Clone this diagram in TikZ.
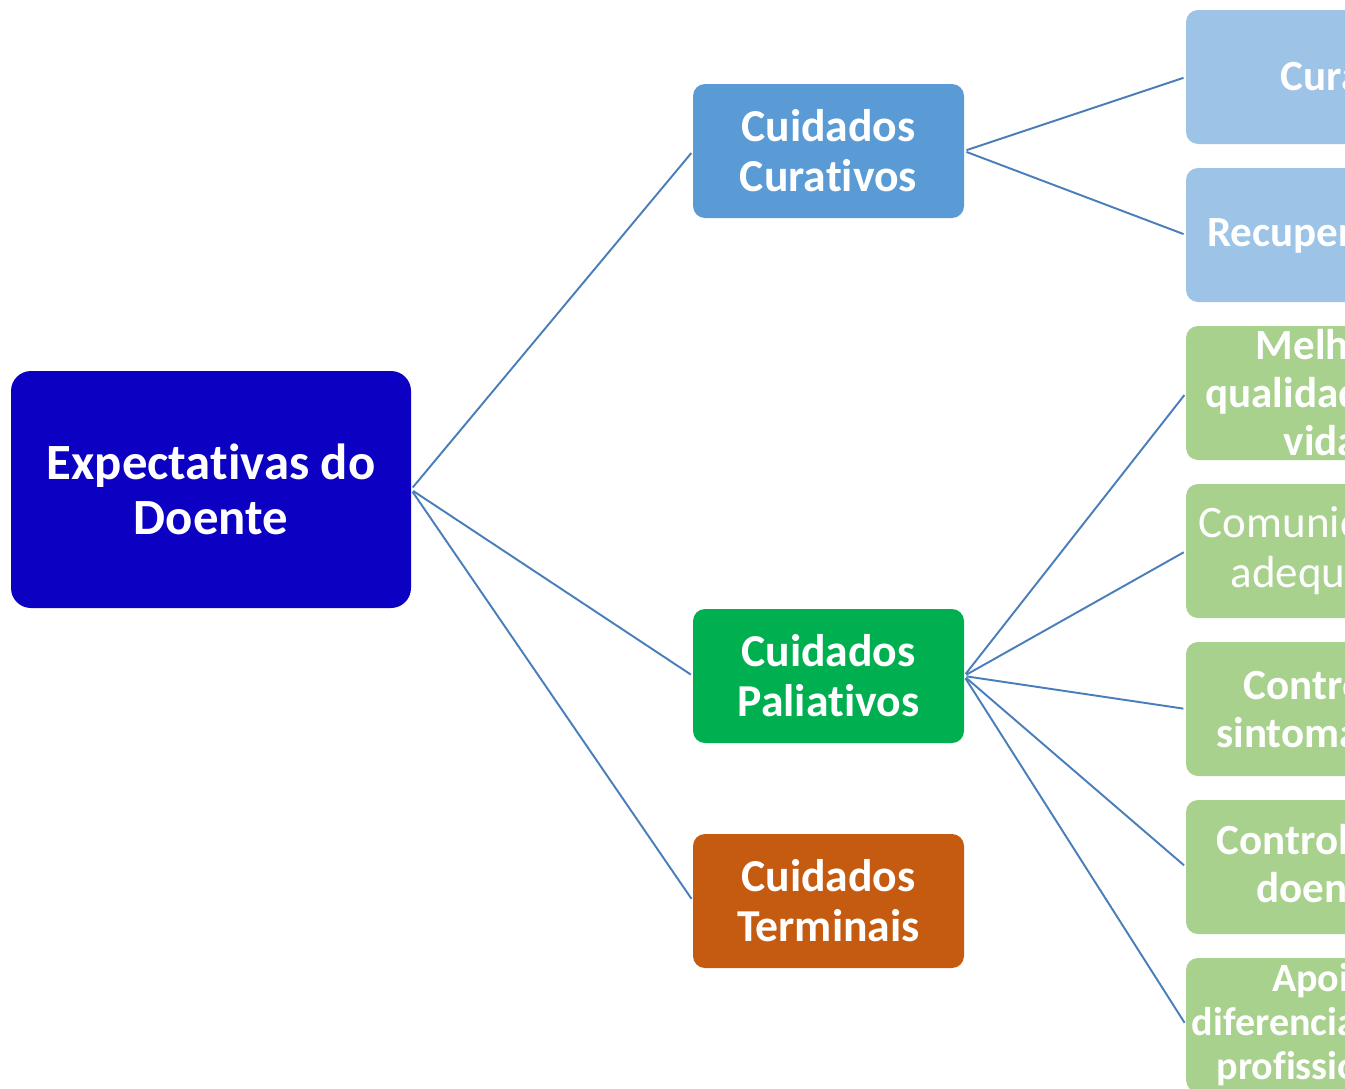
\documentclass[tikz,border=0pt]{standalone}
\usepackage{fontspec}
\setmainfont{Carlito}[Ligatures=NoCommon]
\usetikzlibrary{positioning}

\definecolor{rootblue}{RGB}{12,0,194}
\definecolor{curblue}{RGB}{91,155,213}
\definecolor{palgreen}{RGB}{0,176,80}
\definecolor{termorange}{RGB}{197,90,17}
\definecolor{leafblue}{RGB}{157,195,230}
\definecolor{leafgreen}{RGB}{169,209,142}
\definecolor{linkblue}{RGB}{74,126,187}

\begin{document}
\begin{tikzpicture}[shorten >=1.5pt, shorten <=1.5pt,
    box/.style={rectangle, rounded corners=0.24cm, text=white, align=center,
        inner sep=1pt, outer sep=0pt, minimum width=5.42cm, minimum height=2.68cm},
    mid/.style={box, font=\bfseries\fontsize{26}{28.5}\selectfont},
    leaf/.style={box, font=\bfseries\fontsize{24.5}{27.3}\selectfont},
    link/.style={draw=linkblue, line width=1.1pt}]
    \useasboundingbox (0,0) rectangle (26.9,-21.76);

    % Nodes {root, curativos, paliativos, terminais}
    \node [box, fill=rootblue, rounded corners=0.4cm, minimum width=8cm, minimum height=4.74cm,
           font=\bfseries\fontsize{28.9}{31.3}\selectfont]
                            (doente)     at (4.22,-9.79)   {Expectativas do\\Doente};
    \node [mid, fill=curblue]    (curativos)  at (16.57,-3.02)  {Cuidados\\Curativos};
    \node [mid, fill=palgreen]   (paliativos) at (16.57,-13.52) {Cuidados\\Paliativos};
    \node [mid, fill=termorange] (terminais)  at (16.57,-18.02) {Cuidados\\Terminais};

    % Nodes {leaves}
    \node [leaf, fill=leafblue]  (cura)       at (26.43,-1.54)  {Cura};
    \node [leaf, fill=leafblue]  (recup)      [below=0.48cm of cura]   {Recuperação};
    \node [leaf, fill=leafgreen] (qualidade)  [below=0.48cm of recup]  {Melhor\\qualidade de\\vida};
    \node [leaf, fill=leafgreen, font=\fontsize{25.6}{28.5}\selectfont]
                                 (comunic)    [below=0.48cm of qualidade] {Comunicação\\adequada};
    \node [leaf, fill=leafgreen] (sintomas)   [below=0.48cm of comunic]  {Controlo\\sintomático};
    \node [leaf, fill=leafgreen] (doenca)     [below=0.48cm of sintomas] {Controlo da\\doença};
    \node [leaf, fill=leafgreen, font=\bfseries\fontsize{22.8}{25}\selectfont]
                                 (apoio)      [below=0.48cm of doenca]   {Apoio\\diferenciado de\\profissionais};

    % Paths
    \path [link] (doente.east) edge (curativos.west);
    \path [link] (doente.east) edge (paliativos.west);
    \path [link] (doente.east) edge (terminais.west);
    \path [link] (curativos.east) edge (cura.west);
    \path [link] (curativos.east) edge (recup.west);
    \path [link] (paliativos.east) edge (qualidade.west);
    \path [link] (paliativos.east) edge (comunic.west);
    \path [link] (paliativos.east) edge (sintomas.west);
    \path [link] (paliativos.east) edge (doenca.west);
    \path [link] (paliativos.east) edge (apoio.west);

\end{tikzpicture}
\end{document}
